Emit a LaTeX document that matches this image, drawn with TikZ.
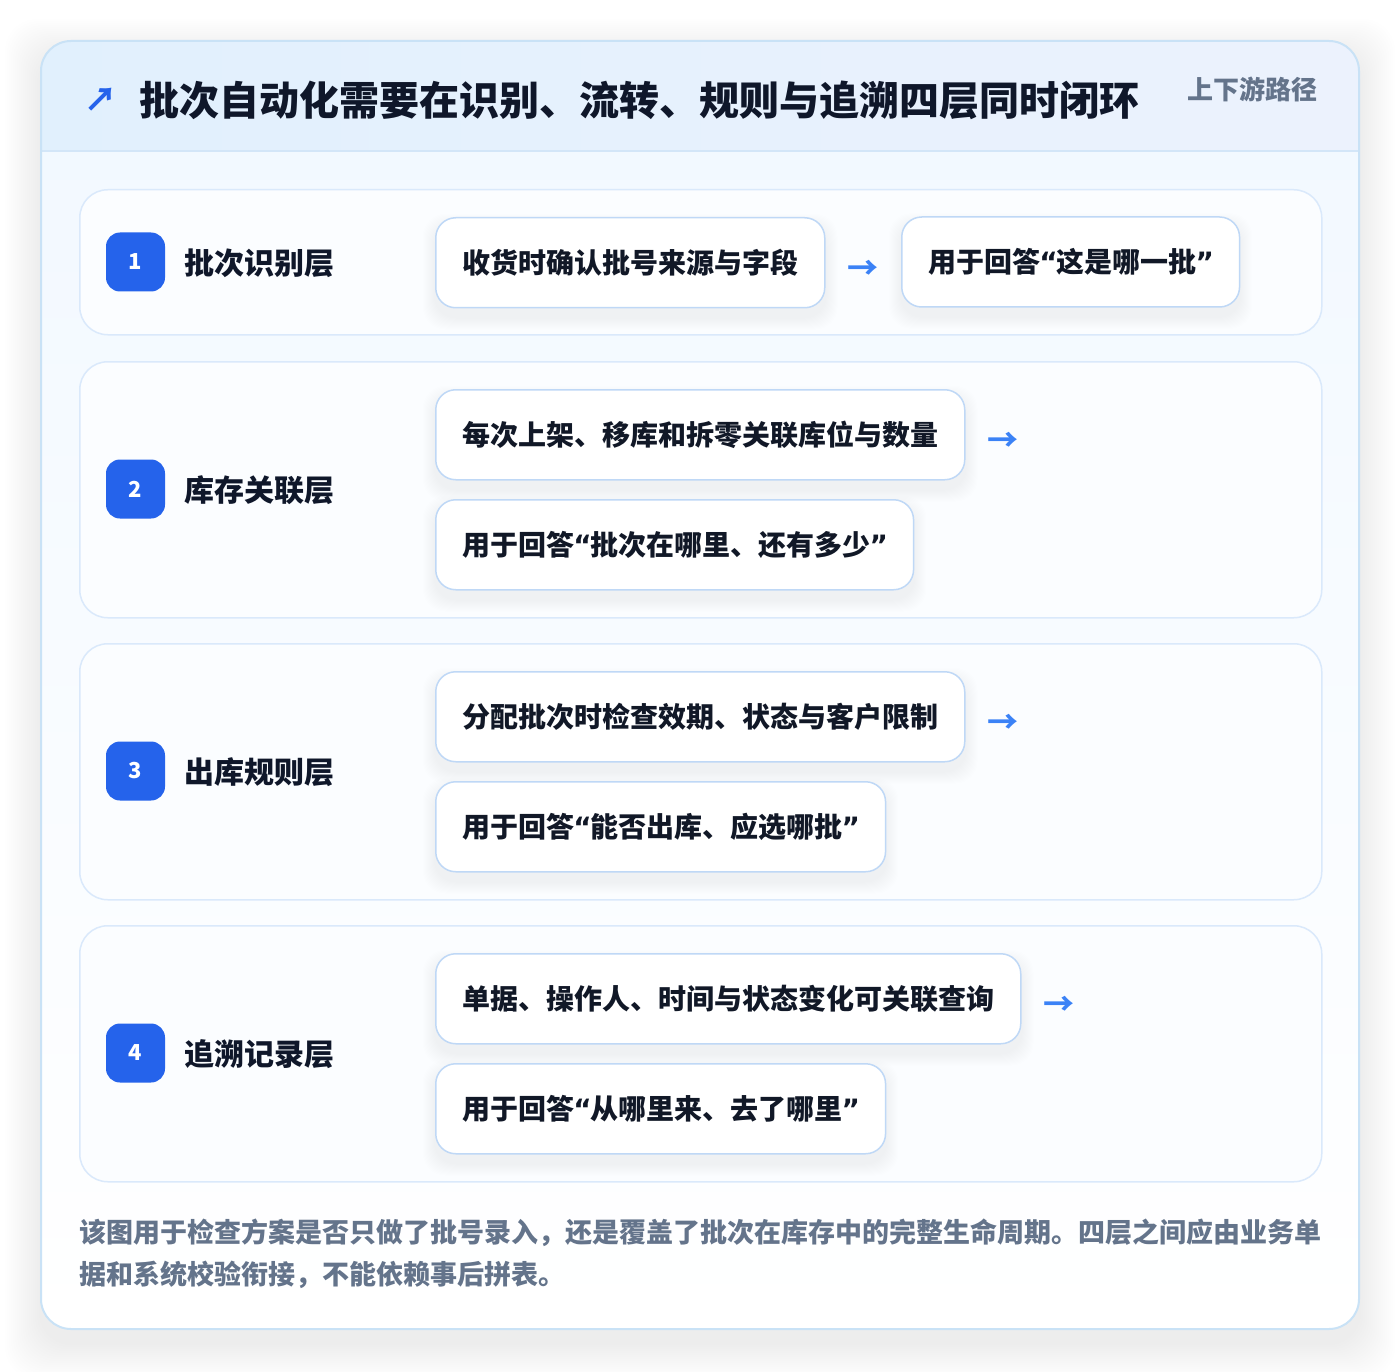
\documentclass[tikz,border=0pt]{standalone}
\usepackage{fontspec}
\setmainfont{Noto Sans CJK SC}
\newfontfamily\quofont{DejaVu Sans}
\newcommand{\oq}{{\quofont\bfseries\kern-1pt“\kern-1pt}}
\newcommand{\cq}{{\quofont\bfseries\kern-1pt”\kern-1pt}}
\usetikzlibrary{positioning,calc}
\pgfdeclarelayer{bg}
\pgfdeclarelayer{mid}
\pgfsetlayers{bg,mid,main}
\definecolor{cardborder}{HTML}{C9E2F6}
\definecolor{hdrL}{HTML}{E1F0FD}
\definecolor{hdrR}{HTML}{ECF2FD}
\definecolor{hdrline}{HTML}{D3E6F8}
\definecolor{bodytop}{HTML}{F1F8FF}
\definecolor{rowborder}{HTML}{DAE9FB}
\definecolor{rowfill}{HTML}{FBFDFF}
\definecolor{itemborder}{HTML}{BFD8F6}
\definecolor{badgeblue}{HTML}{2563EB}
\definecolor{arrowblue}{HTML}{3B82F6}
\definecolor{titlecol}{HTML}{0F172A}
\definecolor{textcol}{HTML}{111827}
\definecolor{mutedcol}{HTML}{64748B}
\definecolor{shadowcol}{HTML}{1E293B}
\tikzset{
  rowbox/.style={draw=rowborder, line width=1.5pt, fill=rowfill, rounded corners=28pt,
    minimum width=1242pt, minimum height=#1, anchor=north west, inner sep=0pt},
  badge/.style={fill=badgeblue, rounded corners=14pt, minimum size=59pt, inner sep=0pt,
    text=white, font=\bfseries\fontsize{22}{26}\selectfont},
  layerlabel/.style={anchor=west, inner sep=0pt, text=titlecol, font=\bfseries\fontsize{30}{36}\selectfont},
  itembox/.style={draw=itemborder, line width=1.5pt, fill=white, rounded corners=20pt,
    minimum height=90pt, inner xsep=26.5pt, inner ysep=0pt, text=textcol,
    font=\bfseries\fontsize{28}{34}\selectfont},
  arrowglyph/.style={inner sep=0pt, text=arrowblue, font=\bfseries\fontsize{31}{31}\selectfont},
}
\newcommand{\nodeshadow}[1]{%
  \begin{pgfonlayer}{mid}
    \foreach \i in {1,2,...,12}{
      \fill[shadowcol, fill opacity=0.005, rounded corners=22pt]
        ($(#1.north west)+(-\i,-\i+9)$) rectangle ($(#1.south east)+(\i,\i+9)$);
    }
  \end{pgfonlayer}}
\begin{document}
\begin{tikzpicture}[x=1pt,y=-1pt]
\useasboundingbox (0,0) rectangle (1400,1372);
\begin{pgfonlayer}{bg}
\fill[white] (0,0) rectangle (1400,1372);
% card shadow
\foreach \i in {2,4,...,36}{
  \fill[shadowcol, fill opacity=0.0045, rounded corners=32pt]
    (41-\i,41-\i+14) rectangle (1359+\i,1329+\i+14);
}
% card body
\shade[rounded corners=30pt, top color=bodytop, bottom color=white] (41,41) rectangle (1359,1329);
% header band
\begin{scope}
  \clip[rounded corners=30pt] (41,41) rectangle (1359,1329);
  \shade[left color=hdrL, right color=hdrR] (41,41) rectangle (1359,151);
  \draw[hdrline, line width=1.5pt] (41,151) -- (1359,151);
\end{scope}
\draw[cardborder, line width=2pt, rounded corners=30pt] (41,41) rectangle (1359,1329);
% row containers
\node[rowbox=145pt] (r1) at (79,189) {};
\node[rowbox=256pt] (r2) at (79,361) {};
\node[rowbox=256pt] (r3) at (79,643) {};
\node[rowbox=256pt] (r4) at (79,925) {};
\end{pgfonlayer}

% header texts
\node[inner sep=0pt, text=badgeblue, font=\bfseries\fontsize{33}{33}\selectfont] (icon) at (101,100) {↗};
\node[anchor=west, inner sep=0pt, text=titlecol, font=\bfseries\fontsize{40}{48}\selectfont] (title) at (139,100)
  {批次自动化需要在识别、流转、规则与追溯四层同时闭环};
\node[anchor=east, inner sep=0pt, text=mutedcol, font=\bfseries\fontsize{26}{30}\selectfont] (sub) at (1318,89) {上下游路径};

% row 1
\node[badge] (b1) at (135.5,262) {1};
\node[layerlabel] (l1) at (184,263) {批次识别层};
\node[itembox, anchor=north west] (a1) at (435,217) {收货时确认批号来源与字段};
\node[arrowglyph, right=22pt of a1, yshift=-7pt] (ar1) {→};
\node[itembox, anchor=west] (c1) at (901,262) {用于回答\oq 这是哪一批\cq};
\nodeshadow{a1}\nodeshadow{c1}

% row 2
\node[badge] (b2) at (135.5,489) {2};
\node[layerlabel] (l2) at (184,490) {库存关联层};
\node[itembox, anchor=north west] (a2) at (435,389) {每次上架、移库和拆零关联库位与数量};
\node[arrowglyph, right=22pt of a2, yshift=-7pt] (ar2) {→};
\node[itembox, anchor=north west] (c2) at (435,499) {用于回答\oq 批次在哪里、还有多少\cq};
\nodeshadow{a2}\nodeshadow{c2}

% row 3
\node[badge] (b3) at (135.5,771) {3};
\node[layerlabel] (l3) at (184,772) {出库规则层};
\node[itembox, anchor=north west] (a3) at (435,671) {分配批次时检查效期、状态与客户限制};
\node[arrowglyph, right=22pt of a3, yshift=-7pt] (ar3) {→};
\node[itembox, anchor=north west] (c3) at (435,781) {用于回答\oq 能否出库、应选哪批\cq};
\nodeshadow{a3}\nodeshadow{c3}

% row 4
\node[badge] (b4) at (135.5,1053) {4};
\node[layerlabel] (l4) at (184,1054) {追溯记录层};
\node[itembox, anchor=north west] (a4) at (435,953) {单据、操作人、时间与状态变化可关联查询};
\node[arrowglyph, right=22pt of a4, yshift=-7pt] (ar4) {→};
\node[itembox, anchor=north west] (c4) at (435,1063) {用于回答\oq 从哪里来、去了哪里\cq};
\nodeshadow{a4}\nodeshadow{c4}

% footer
\node[anchor=north west, inner sep=0pt, align=left, text=mutedcol, font=\bfseries\fontsize{27}{42}\selectfont] (note) at (79,1219)
  {该图用于检查方案是否只做了批号录入，还是覆盖了批次在库存中的完整生命周期。四层之间应由业务单\\据和系统校验衔接，不能依赖事后拼表。};
\end{tikzpicture}
\end{document}
